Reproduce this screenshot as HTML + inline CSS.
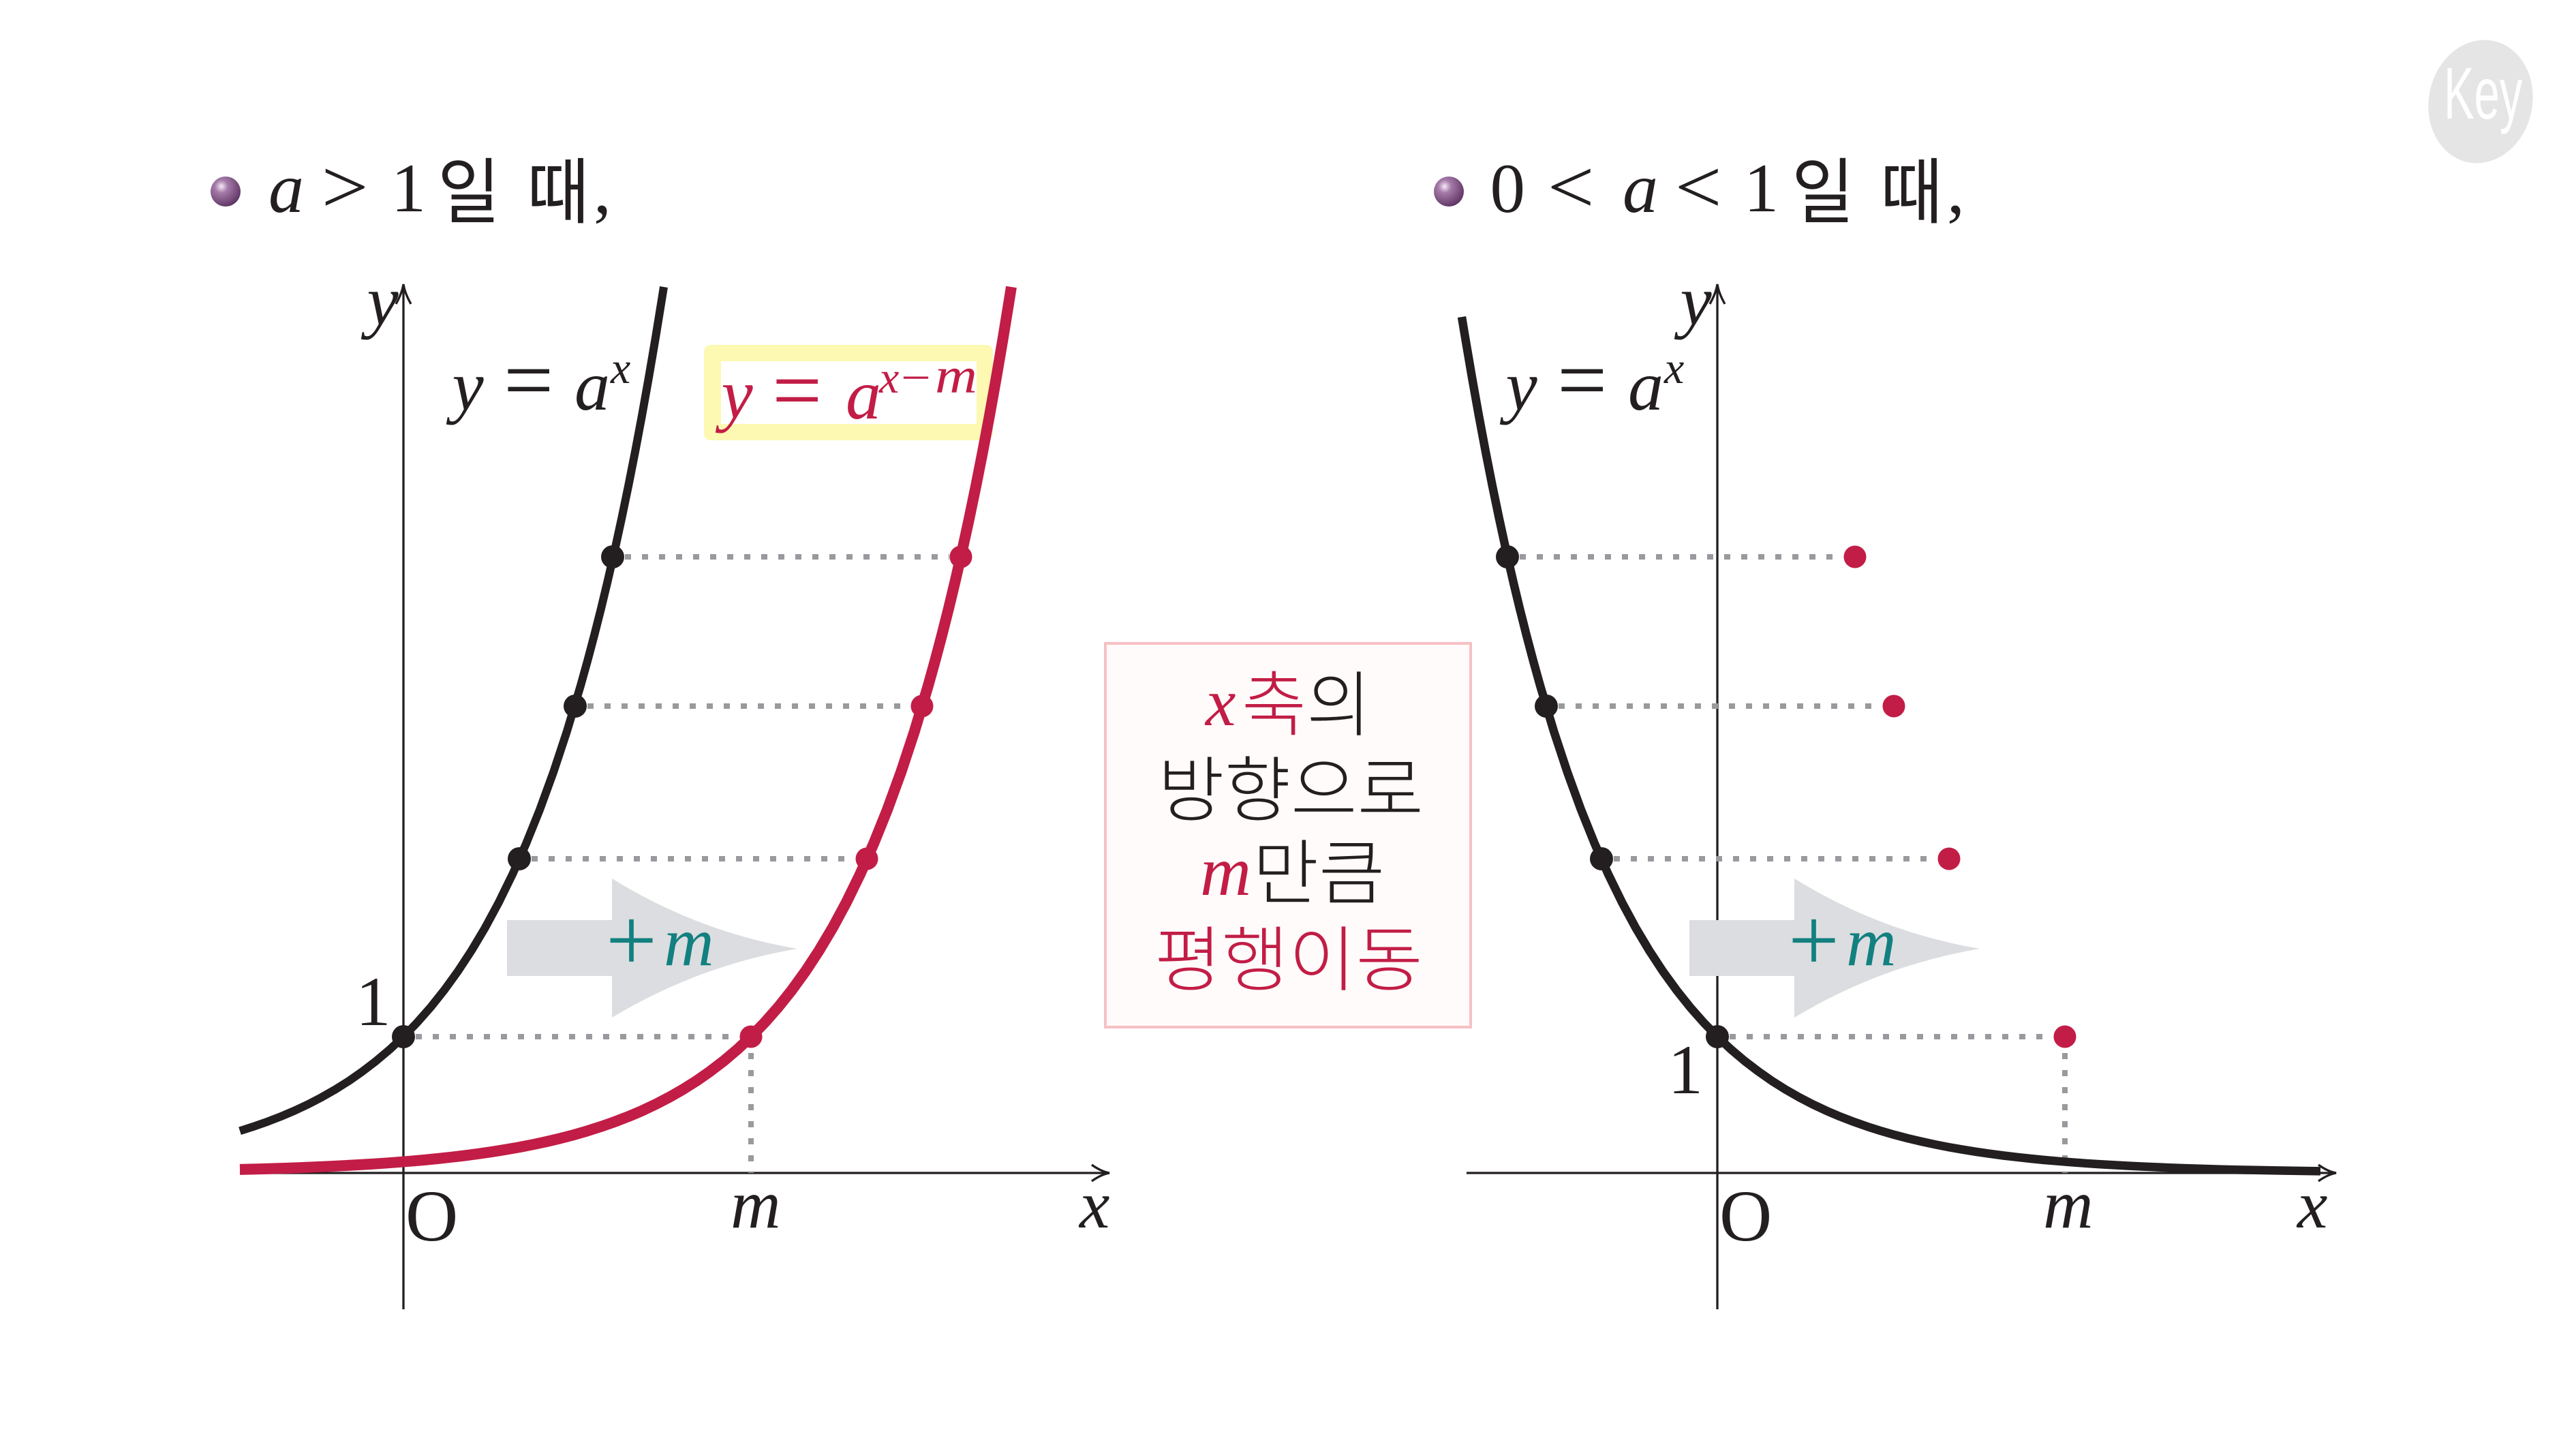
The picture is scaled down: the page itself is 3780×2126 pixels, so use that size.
<!DOCTYPE html>
<html><head><meta charset="utf-8">
<style>
html,body{margin:0;padding:0;background:#fff;}
svg{display:block;}
.mi{font-family:"Liberation Serif","DejaVu Serif",serif;font-style:italic;}
.mr{font-family:"Liberation Serif","DejaVu Serif",serif;font-style:normal;}
.kr{font-family:"Liberation Sans","Noto Sans CJK KR",sans-serif;}
.krl{font-family:"Liberation Sans","Noto Sans CJK KR",sans-serif;font-weight:300;}
</style></head><body>
<svg width="3780" height="2126" viewBox="0 0 3780 2126" xmlns="http://www.w3.org/2000/svg">
<defs>
<radialGradient id="ball" cx="0.36" cy="0.33" r="0.72">
<stop offset="0" stop-color="#f6eaf6"/>
<stop offset="0.3" stop-color="#a57ba9"/>
<stop offset="1" stop-color="#5d3262"/>
</radialGradient>
</defs>
<rect width="3780" height="2126" fill="#fff"/>

<!-- Key logo -->
<ellipse cx="3640" cy="149" rx="76" ry="91" fill="#e5e5e5" transform="rotate(12 3640 149)"/>
<text x="0" y="0" transform="translate(3586 174) scale(0.62 1)" font-family="Liberation Sans, sans-serif" font-size="108" fill="#ffffff">Key</text>

<!-- Titles -->
<g fill="#231f20">
<circle cx="331" cy="281" r="22" fill="url(#ball)"/>
<text class="mi" x="394" y="311" font-size="104">a</text>
<text class="mr" x="471.6" y="312" font-size="112" textLength="69" lengthAdjust="spacingAndGlyphs">&gt;</text>
<text class="mr" x="574" y="310" font-size="102">1</text>
<text class="kr" x="642" y="319" font-size="105" textLength="92" lengthAdjust="spacingAndGlyphs">일</text>
<text class="kr" x="773" y="319" font-size="105" textLength="92" lengthAdjust="spacingAndGlyphs">때</text>
<text class="mr" x="871" y="312" font-size="104">,</text>

<circle cx="2126" cy="281" r="22" fill="url(#ball)"/>
<text class="mr" x="2186.5" y="311" font-size="103">0</text>
<text class="mr" x="2270.6" y="312" font-size="112" textLength="69" lengthAdjust="spacingAndGlyphs">&lt;</text>
<text class="mi" x="2381" y="311" font-size="104">a</text>
<text class="mr" x="2457.6" y="312" font-size="112" textLength="69" lengthAdjust="spacingAndGlyphs">&lt;</text>
<text class="mr" x="2559" y="310" font-size="102">1</text>
<text class="kr" x="2629" y="319" font-size="105" textLength="92" lengthAdjust="spacingAndGlyphs">일</text>
<text class="kr" x="2759" y="319" font-size="105" textLength="92" lengthAdjust="spacingAndGlyphs">때</text>
<text class="mr" x="2857" y="312" font-size="104">,</text>
</g>

<!-- Yellow highlight box -->
<rect x="1033" y="506" width="424" height="140" rx="10" ry="10" fill="#fdf8b2"/>
<rect x="1058" y="530" width="375" height="92" fill="#ffffff"/>

<!-- Middle box -->
<rect x="1622" y="944" width="536" height="563" fill="#fffbfa" stroke="#f7c0c4" stroke-width="4"/>
<text class="mi" x="1769" y="1064" font-size="100" fill="#c21d46">x</text>
<text class="krl" x="1822" y="1071" font-size="104" textLength="190" lengthAdjust="spacingAndGlyphs"><tspan fill="#c21d46">축</tspan><tspan fill="#231f20">의</tspan></text>
<text class="krl" x="1699" y="1196" font-size="104" fill="#231f20" textLength="390" lengthAdjust="spacingAndGlyphs">방향으로</text>
<text class="mi" x="1761" y="1313" font-size="104" fill="#c21d46">m</text>
<text class="krl" x="1838" y="1318" font-size="104" fill="#231f20" textLength="194" lengthAdjust="spacingAndGlyphs">만큼</text>
<text class="krl" x="1694" y="1445" font-size="104" fill="#c21d46" textLength="394" lengthAdjust="spacingAndGlyphs">평행이동</text>

<!-- Axes -->
<g stroke="#231f20" stroke-width="3.3" fill="none">
<line x1="592" y1="1921" x2="592" y2="419"/>
<path d="M581,446 Q590,430 592,417 Q594,430 603,446"/>
<line x1="352" y1="1721" x2="1626" y2="1721"/>
<path d="M1602,1709 Q1616,1719 1628,1721 Q1616,1723 1602,1733"/>
<line x1="2520" y1="1921" x2="2520" y2="419"/>
<path d="M2509,446 Q2518,430 2520,417 Q2522,430 2531,446"/>
<line x1="2152" y1="1721" x2="3426" y2="1721"/>
<path d="M3402,1709 Q3416,1719 3428,1721 Q3416,1723 3402,1733"/>
</g>

<!-- Gray shift arrows -->
<path d="M744,1350 H898 V1289 Q1024,1367 1170,1392 Q1024,1417 898,1493 V1432 H744 Z" fill="#dcdde0"/>
<path d="M2479,1350 H2633 V1289 Q2759,1367 2905,1392 Q2759,1417 2633,1493 V1432 H2479 Z" fill="#dcdde0"/>
<text class="mr" x="889" y="1424" font-size="133" fill="#138080">+</text>
<text class="mi" x="974" y="1416" font-size="102" fill="#138080">m</text>
<text class="mr" x="2624" y="1424" font-size="133" fill="#138080">+</text>
<text class="mi" x="2709" y="1416" font-size="102" fill="#138080">m</text>

<!-- Dotted guide lines -->
<g stroke="#999a9d" stroke-width="8" stroke-dasharray="9 16" fill="none">
<line x1="917" y1="817" x2="1393" y2="817"/>
<line x1="862" y1="1036" x2="1336" y2="1036"/>
<line x1="780" y1="1260" x2="1255" y2="1260"/>
<line x1="610" y1="1521" x2="1085" y2="1521"/>
<line x1="1102" y1="1545" x2="1102" y2="1721"/>
<line x1="2230" y1="817" x2="2705" y2="817"/>
<line x1="2287" y1="1036" x2="2762" y2="1036"/>
<line x1="2368" y1="1260" x2="2843" y2="1260"/>
<line x1="2538" y1="1521" x2="3013" y2="1521"/>
<line x1="3030" y1="1545" x2="3030" y2="1721"/>
</g>

<!-- Curves -->
<polyline fill="none" stroke="#c21d46" stroke-width="16" stroke-linejoin="round" points="352,1715.9 382,1715.1 402,1714.5 422,1713.9 442,1713.1 462,1712.3 482,1711.4 502,1710.4 522,1709.3 542,1708.1 562,1706.8 582,1705.3 602,1703.7 622,1702.0 642,1700.0 662,1697.8 682,1695.5 702,1692.8 722,1689.9 742,1686.7 762,1683.2 782,1679.3 802,1675.0 822,1670.3 842,1665.1 862,1659.3 882,1652.9 902,1645.9 922,1638.2 942,1629.7 962,1620.3 982,1609.9 1002,1598.5 1022,1585.9 1042,1571.9 1062,1556.6 1082,1539.7 1102,1521 1122,1500.4 1142,1477.7 1162,1452.6 1182,1425 1202,1394.5 1222,1360.9 1242,1323.8 1262,1282.9 1282,1237.8 1302,1188.1 1322,1133.2 1342,1072.7 1362,1005.9 1372,970 1382,932.3 1392,892.8 1402,851.2 1412,807.4 1422,761.5 1432,713.4 1442,662.8 1452,609.7 1462,553.8 1472,495.2 1482,433.6 1484,421"/>
<polyline fill="none" stroke="#231f20" stroke-width="12" stroke-linejoin="round" points="352,1659.3 372,1652.9 392,1645.9 412,1638.2 432,1629.7 452,1620.3 472,1609.9 492,1598.5 512,1585.9 532,1571.9 552,1556.6 572,1539.7 592,1521 612,1500.4 632,1477.7 652,1452.6 672,1425 692,1394.5 712,1360.9 732,1323.8 752,1282.9 772,1237.8 792,1188.1 812,1133.2 832,1072.7 852,1005.9 862,970 872,932.3 882,892.8 892,851.2 902,807.4 912,761.5 922,713.4 932,662.8 942,609.7 952,553.8 962,495.2 972,433.6 974,421"/>
<polyline fill="none" stroke="#231f20" stroke-width="12.5" stroke-linejoin="round" points="2145,465 2150,495.2 2160,553.8 2170,609.7 2180,662.8 2190,713.4 2200,761.5 2210,807.4 2220,851.2 2230,892.8 2240,932.3 2250,970 2260,1005.9 2280,1072.7 2300,1133.2 2320,1188.1 2340,1237.8 2360,1282.9 2380,1323.8 2400,1360.9 2420,1394.5 2440,1425 2460,1452.6 2480,1477.7 2500,1500.4 2520,1521 2540,1539.7 2560,1556.6 2580,1571.9 2600,1585.9 2620,1598.5 2640,1609.9 2660,1620.3 2680,1629.7 2700,1638.2 2720,1645.9 2740,1652.9 2760,1659.3 2780,1665.1 2800,1670.3 2820,1675.0 2840,1679.3 2860,1683.2 2880,1686.7 2900,1689.9 2920,1692.8 2940,1695.5 2960,1697.8 2980,1700.0 3000,1702.0 3020,1703.7 3040,1705.3 3060,1706.8 3080,1708.1 3100,1709.3 3120,1710.4 3140,1711.4 3160,1712.3 3180,1713.1 3200,1713.9 3220,1714.5 3240,1715.1 3260,1715.7 3280,1716.2 3300,1716.6 3340,1717.4 3380,1718 3405,1718.4"/>

<!-- Dots -->
<g fill="#231f20">
<circle cx="899" cy="817" r="17"/>
<circle cx="844" cy="1036" r="17"/>
<circle cx="762" cy="1260" r="17"/>
<circle cx="592" cy="1521" r="17"/>
<circle cx="2212" cy="817" r="17"/>
<circle cx="2269" cy="1036" r="17"/>
<circle cx="2350" cy="1260" r="17"/>
<circle cx="2520" cy="1521" r="17"/>
</g>
<g fill="#c21d46">
<circle cx="1410" cy="817" r="16.5"/>
<circle cx="1353" cy="1036" r="16.5"/>
<circle cx="1272" cy="1260" r="16.5"/>
<circle cx="1102" cy="1521" r="16.5"/>
<circle cx="2722" cy="817" r="16.5"/>
<circle cx="2779" cy="1036" r="16.5"/>
<circle cx="2860" cy="1260" r="16.5"/>
<circle cx="3030" cy="1521" r="16.5"/>
</g>

<!-- Formulas -->
<g fill="#231f20">
<text class="mi" x="663.5" y="601" font-size="104">y</text>
<text class="mr" x="739" y="601" font-size="130">=</text>
<text class="mi" x="843" y="601" font-size="104">a</text>
<text class="mi" x="896" y="562" font-size="66">x</text>

<text class="mi" x="2209.5" y="601" font-size="104">y</text>
<text class="mr" x="2285" y="601" font-size="130">=</text>
<text class="mi" x="2389" y="601" font-size="104">a</text>
<text class="mi" x="2442" y="562" font-size="66">x</text>
</g>
<g fill="#c21d46">
<text class="mi" x="1058.5" y="613" font-size="104">y</text>
<text class="mr" x="1133" y="616" font-size="130">=</text>
<text class="mi" x="1241" y="614" font-size="104">a</text>
<text class="mi" x="1290" y="576" font-size="66">x</text>
<text class="mr" x="1322" y="576" font-size="66" textLength="44" lengthAdjust="spacingAndGlyphs">−</text>
<text class="mi" x="1372" y="576" font-size="74" textLength="62" lengthAdjust="spacingAndGlyphs">m</text>
</g>

<!-- Axis labels -->
<g fill="#231f20">
<text class="mi" x="538.5" y="476" font-size="104">y</text>
<text class="mi" x="2465.5" y="476" font-size="104">y</text>
<text class="mr" x="522" y="1504" font-size="103">1</text>
<text class="mr" x="2447.5" y="1604" font-size="103">1</text>
<text class="mr" x="595" y="1820" font-size="107">O</text>
<text class="mr" x="2523" y="1820" font-size="107">O</text>
<text class="mi" x="1072" y="1801" font-size="102">m</text>
<text class="mi" x="2998" y="1801" font-size="102">m</text>
<text class="mi" x="1584" y="1801" font-size="100">x</text>
<text class="mi" x="3371" y="1801" font-size="100">x</text>
</g>
</svg>
</body></html>
